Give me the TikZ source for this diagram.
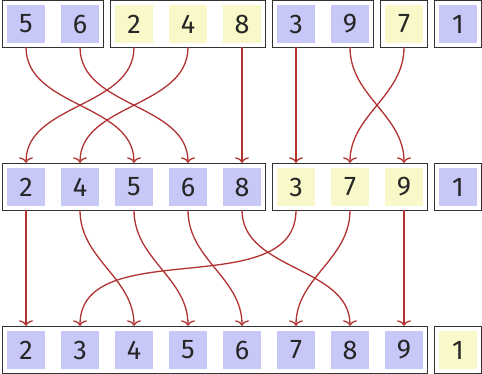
\documentclass[tikz,border=0pt]{standalone}
\usepackage{fontspec}
\setmainfont{Fira Sans}
\usepackage{tikz}
\usetikzlibrary{arrows.meta,fit}

\definecolor{cellblue}{RGB}{200,200,248}
\definecolor{cellyellow}{RGB}{248,248,200}
\definecolor{arrowred}{RGB}{178,50,50}

\begin{document}
\begin{tikzpicture}[
      x=1pt, y=-1pt,
      font=\fontsize{27}{30}\selectfont,
      cell/.style={inner sep=0pt, minimum width=38pt, minimum height=38pt, text=black!85},
      blu/.style={cell, fill=cellblue},
      yel/.style={cell, fill=cellyellow},
      grp/.style={draw=black!80, line width=1pt, inner sep=4.5pt},
      arrow/.style={-{To[length=5.5pt,width=14pt]}, draw=arrowred, line width=1.3pt,
                    shorten <=4pt, shorten >=5pt}
    ]
    \useasboundingbox (0,0) rectangle (482,373);
    % input row
    \node[blu] (t5) at (26,24) {5};
    \node[blu] (t6) at (80,24) {6};
    \node[yel] (t2) at (134,24) {2};
    \node[yel] (t4) at (188,24) {4};
    \node[yel] (t8) at (242,24) {8};
    \node[blu] (t3) at (296,24) {3};
    \node[blu] (t9) at (350,24) {9};
    \node[yel] (t7) at (404,24) {7};
    \node[blu] (t1) at (458,24) {1};
    \node[grp, fit=(t5)(t6)] (g1) {};
    \node[grp, fit=(t2)(t8)] (g2) {};
    \node[grp, fit=(t3)(t9)] (g3) {};
    \node[grp, fit=(t7)] (g4) {};
    \node[grp, fit=(t1)] (g5) {};
    % after first merge
    \node[blu] (m2) at (26,187) {2};
    \node[blu] (m4) at (80,187) {4};
    \node[blu] (m5) at (134,187) {5};
    \node[blu] (m6) at (188,187) {6};
    \node[blu] (m8) at (242,187) {8};
    \node[yel] (m3) at (296,187) {3};
    \node[yel] (m7) at (350,187) {7};
    \node[yel] (m9) at (404,187) {9};
    \node[blu] (m1) at (458,187) {1};
    \node[grp, fit=(m2)(m8)] (h1) {};
    \node[grp, fit=(m3)(m9)] (h2) {};
    \node[grp, fit=(m1)] (h3) {};
    % after second merge
    \node[blu] (b2) at (26,350) {2};
    \node[blu] (b3) at (80,350) {3};
    \node[blu] (b4) at (134,350) {4};
    \node[blu] (b5) at (188,350) {5};
    \node[blu] (b6) at (242,350) {6};
    \node[blu] (b7) at (296,350) {7};
    \node[blu] (b8) at (350,350) {8};
    \node[blu] (b9) at (404,350) {9};
    \node[yel] (b1) at (458,350) {1};
    \node[grp, fit=(b2)(b9)] (k1) {};
    \node[grp, fit=(b1)] (k2) {};
    % moves
    \draw[arrow] (t5.south) to[out=-90, in=90] (m5.north);
    \draw[arrow] (t6.south) to[out=-90, in=90] (m6.north);
    \draw[arrow] (t2.south) to[out=-90, in=90] (m2.north);
    \draw[arrow] (t4.south) to[out=-90, in=90] (m4.north);
    \draw[arrow] (t8.south) to[out=-90, in=90] (m8.north);
    \draw[arrow] (t3.south) to[out=-90, in=90] (m3.north);
    \draw[arrow] (t9.south) to[out=-90, in=90] (m9.north);
    \draw[arrow] (t7.south) to[out=-90, in=90] (m7.north);
    \draw[arrow] (m2.south) to[out=-90, in=90] (b2.north);
    \draw[arrow] (m4.south) to[out=-90, in=90] (b4.north);
    \draw[arrow] (m5.south) to[out=-90, in=90] (b5.north);
    \draw[arrow] (m6.south) to[out=-90, in=90] (b6.north);
    \draw[arrow] (m8.south) to[out=-90, in=90] (b8.north);
    \draw[arrow] (m3.south) to[out=-90, in=90] (b3.north);
    \draw[arrow] (m7.south) to[out=-90, in=90] (b7.north);
    \draw[arrow] (m9.south) to[out=-90, in=90] (b9.north);
  \end{tikzpicture}
\end{document}
